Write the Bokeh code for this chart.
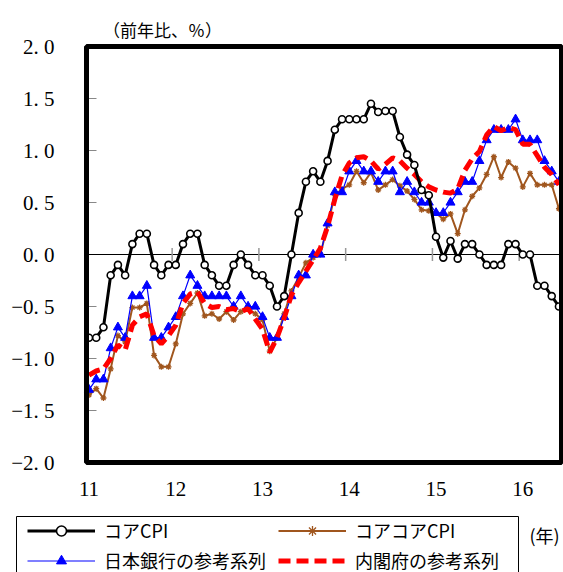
from bokeh.plotting import figure
from bokeh.models import Range1d, Label, Legend, LegendItem, BoxAnnotation
from bokeh.embed import file_html
from bokeh.resources import INLINE
from bokeh.core.properties import value
import math

# Months: index 0 = Jan 2011 ... 65 = Jun 2016
months = list(range(66))

core_cpi = [-0.8, -0.8, -0.7, -0.2, -0.1, -0.2, 0.1, 0.2, 0.2, -0.1, -0.2, -0.1,
            -0.1, 0.1, 0.2, 0.2, -0.1, -0.2, -0.3, -0.3, -0.1, 0.0, -0.1, -0.2,
            -0.2, -0.3, -0.5, -0.4, 0.0, 0.4, 0.7, 0.8, 0.7, 0.9, 1.2, 1.3,
            1.3, 1.3, 1.3, 1.45, 1.37, 1.38, 1.38, 1.13, 0.96, 0.86, 0.62, 0.57,
            0.17, -0.03, 0.13, -0.04, 0.1, 0.1, 0.0, -0.1, -0.1, -0.1, 0.1, 0.1,
            0.0, 0.0, -0.3, -0.3, -0.4, -0.5]

core_core_cpi = [-1.35, -1.29, -1.38, -1.10, -0.78, -0.84, -0.51, -0.51, -0.47, -0.97, -1.08, -1.08,
                 -0.86, -0.57, -0.47, -0.37, -0.59, -0.57, -0.62, -0.55, -0.63, -0.55, -0.52, -0.57,
                 -0.63, -0.93, -0.80, -0.57, -0.35, -0.22, -0.08, -0.03, 0.0, 0.28, 0.57, 0.63,
                 0.67, 0.80, 0.69, 0.79, 0.62, 0.67, 0.72, 0.66, 0.61, 0.53, 0.43, 0.42,
                 0.40, 0.34, 0.39, 0.20, 0.43, 0.56, 0.64, 0.77, 0.94, 0.74, 0.89, 0.83,
                 0.65, 0.78, 0.67, 0.67, 0.67, 0.44]

boj_series = [-1.3, -1.2, -1.2, -0.9, -0.7, -0.8, -0.4, -0.4, -0.3, -0.8, -0.8, -0.7,
              -0.6, -0.4, -0.2, -0.3, -0.4, -0.4, -0.4, -0.4, -0.5, -0.4, -0.5, -0.5,
              -0.6, -0.8, -0.8, -0.6, -0.4, -0.2, -0.2, 0.0, 0.0, 0.3, 0.6, 0.6,
              0.8, 0.9, 0.8, 0.8, 0.7, 0.8, 0.8, 0.6, 0.7, 0.6, 0.5, 0.5,
              0.4, 0.4, 0.5, 0.6, 0.7, 0.7, 0.9, 1.1, 1.2, 1.2, 1.2, 1.3,
              1.1, 1.1, 1.1, 0.9, 0.8, 0.7]

cao_series = [-1.16, -1.12, -1.10, -1.0, -0.87, -0.92, -0.68, -0.60, -0.57, -0.78, -0.86, -0.78,
              -0.68, -0.47, -0.38, -0.36, -0.47, -0.51, -0.50, -0.53, -0.52, -0.55, -0.52, -0.62,
              -0.72, -0.94, -0.80, -0.61, -0.39, -0.27, -0.16, -0.05, 0.06, 0.27, 0.53, 0.76,
              0.88, 0.93, 0.94, 0.90, 0.82, 0.87, 0.93, 0.90, 0.83, 0.77, 0.70, 0.65,
              0.62, 0.60, 0.59, 0.63, 0.81, 0.92, 0.99, 1.15, 1.23, 1.19, 1.22, 1.20,
              1.06, 1.06, 0.95, 0.84, 0.77, 0.67]

year_ticks = [0, 12, 24, 36, 48, 60]
year_labels = ["11", "12", "13", "14", "15", "16"]
y_ticks = [-2.0, -1.5, -1.0, -0.5, 0.0, 0.5, 1.0, 1.5, 2.0]
y_labels = ["−2. 0", "−1. 5", "−1. 0", "−0. 5", "0. 0", "0. 5", "1. 0", "1. 5", "2. 0"]
y_min, y_max = -2.0, 2.0

names = ["コアCPI", "コアコアCPI", "日本銀行の参考系列", "内閣府の参考系列"]

JP = "Noto Sans CJK JP"
NUM = "Liberation Serif"
BROWN = "#A0561E"

# ---- layout (canvas pixels) ----
W, H = 563, 572
M0_PX = 88.5      # pixel x of first month
PX_PER_M = 7.23   # pixels per month
Y0_PX = 254.0     # pixel y of value 0
PX_PER_U = 104.0  # pixels per 1 %pt
BOX_L, BOX_R = 86, 561   # chart box left / right (pixels)
LEG_L, LEG_R, LEG_T = 16, 518, 516  # legend frame (pixels)


def dx(px):
    return (px - M0_PX) / PX_PER_M


def dy(py):
    return (Y0_PX - py) / PX_PER_U


p = figure(width=W, height=H, x_range=Range1d(dx(0), dx(W)), y_range=Range1d(dy(H), dy(0)),
           output_backend="svg", toolbar_location=None,
           x_axis_location=None, y_axis_location=None, min_border=0)
p.background_fill_color = "white"
p.border_fill_color = "white"
p.outline_line_color = None
p.xgrid.visible = False
p.ygrid.visible = False

# chart box
p.add_layout(BoxAnnotation(left=dx(BOX_L), right=dx(BOX_R), bottom=y_min, top=y_max,
                           fill_color=None, fill_alpha=0, line_color="black", line_alpha=1.0,
                           line_width=5))

# y tick marks (inside) and labels
p.scatter([dx(BOX_L + 4.5)] * len(y_ticks), y_ticks, marker="dash", size=11,
          line_color="#888888", line_width=1)
p.text([dx(54)] * len(y_ticks), y_ticks, text=y_labels, text_align="right",
       text_baseline="middle", text_font=value(NUM), text_font_size="21px", text_color="black")

# x labels
p.text(year_ticks, [dy(488)] * len(year_ticks), text=year_labels, text_align="center",
       text_baseline="middle", text_font=value(NUM), text_font_size="21px", text_color="black")

# zero line and year-boundary ticks on it
p.segment(x0=[dx(BOX_L)], y0=[0], x1=[dx(BOX_R)], y1=[0], line_color="black", line_width=1)
bounds = [t - 0.5 for t in year_ticks[1:]]
p.scatter(bounds, [0] * len(bounds), marker="dash", angle=math.pi / 2, size=13,
          line_color="#999999", line_width=1.5)

# series
r_cc_l = p.line(months, core_core_cpi, line_color=BROWN, line_width=2)
r_cc_m = p.scatter(months, core_core_cpi, marker="asterisk", size=6, line_color=BROWN, line_width=1.3)
r_boj_l = p.line(months, boj_series, line_color="#0000FF", line_width=1.2)
r_boj_m = p.scatter(months, boj_series, marker="triangle", size=9, fill_color="#0000FF", line_color="#0000FF")
r_cao = p.line(months, cao_series, line_color="#FF0000", line_width=5, line_dash="12 6")
r_core_l = p.line(months, core_cpi, line_color="black", line_width=3)
r_core_m = p.scatter(months, core_cpi, marker="circle", size=7, fill_color="white",
                     line_color="black", line_width=1.6)

# legend frame
p.add_layout(BoxAnnotation(left=dx(LEG_L), right=dx(LEG_R), top=dy(LEG_T), bottom=dy(H + 20),
                           fill_color="white", fill_alpha=1.0, line_color="black", line_alpha=1.0,
                           line_width=1, level="overlay"))

legend = Legend(items=[
    LegendItem(label=names[0], renderers=[r_core_l, r_core_m]),
    LegendItem(label=names[1], renderers=[r_cc_l, r_cc_m]),
    LegendItem(label=names[2], renderers=[r_boj_l, r_boj_m]),
    LegendItem(label=names[3], renderers=[r_cao]),
], location=(27, -1), orientation="horizontal", ncols=2)
legend.border_line_color = None
legend.background_fill_alpha = 0.0
legend.padding = 0
legend.margin = 0
legend.spacing = 4
legend.glyph_width = 68
legend.glyph_height = 25
legend.label_height = 25
legend.label_width = 170
legend.label_standoff = 9
legend.label_text_font = JP
legend.label_text_font_size = "18px"
legend.label_text_color = "black"
p.add_layout(legend, "center")

p.add_layout(Label(x=dx(162), y=dy(29), text="（前年比、％）", text_font=JP, text_font_size="17px",
                   text_align="center", text_baseline="middle", text_color="black"))
p.add_layout(Label(x=dx(544), y=dy(534), text="(年)", text_font=JP, text_font_size="18px",
                   text_align="center", text_baseline="middle", text_color="black"))

open("out.html", "w").write(file_html(p, INLINE))
